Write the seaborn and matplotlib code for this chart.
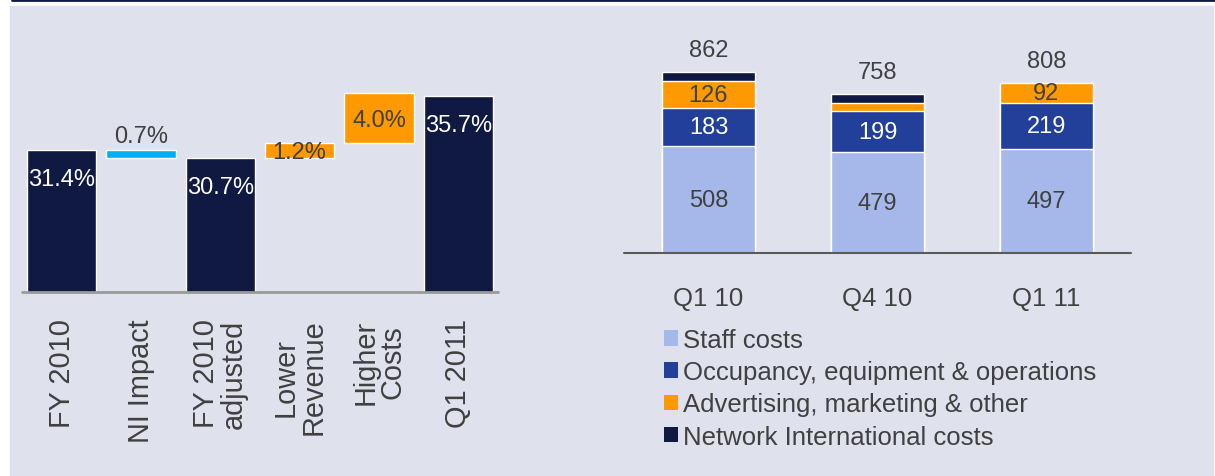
import matplotlib
matplotlib.use("Agg")
import matplotlib.pyplot as plt
import seaborn as sns
import numpy as np
from matplotlib.patches import Patch, Rectangle
from matplotlib.lines import Line2D

# ---- data ----
steps = ["FY 2010", "NI Impact", "FY 2010\nadjusted", "Lower\nRevenue", "Higher\nCosts", "Q1 2011"]
step_values = [31.4, -0.7, 30.7, 1.2, 4.0, 35.7]
step_kind = ["total", "delta", "total", "delta", "delta", "total"]
step_labels = ["31.4%", "0.7%", "30.7%", "1.2%", "4.0%", "35.7%"]

quarters = ["Q1 10", "Q4 10", "Q1 11"]
cost_names = ["Staff costs", "Occupancy, equipment & operations",
              "Advertising, marketing & other", "Network International costs"]
staff = [508, 479, 497]
occupancy = [183, 199, 219]
advertising = [126, 35, 92]
network = [45, 45, 0]
totals = [862, 758, 808]

# ---- style ----
sns.set_theme(style="white")
plt.rcParams["font.family"] = ["Liberation Sans", "DejaVu Sans"]
navy = "#0f1941"
cyan = "#00b0f0"
orange = "#ff9900"
light_blue = "#a6b8ea"
blue = "#223f99"
panel = "#dfe1ec"
txt = "#404040"
lab_fs = 17

W, H = 1215, 477
fig = plt.figure(figsize=(W / 100, H / 100), dpi=100, facecolor="white")
fig.patches.append(Rectangle((10 / W, 0), (W - 12) / W, (H - 7) / H,
                             transform=fig.transFigure, color=panel, zorder=-5))
fig.lines.append(Line2D([12 / W, 1], [1 - 1 / H, 1 - 1 / H], transform=fig.transFigure,
                        color=navy, lw=2))

# ---- left: waterfall ----
ax1 = fig.add_axes([22 / W, 1 - 293 / H, 476 / W, 250 / H])
ax1.set_facecolor("none")
level = 0
for i, (name, v, kind) in enumerate(zip(steps, step_values, step_kind)):
    if kind == "total":
        sns.barplot(x=[name], y=[v], order=steps, color=navy, width=0.87,
                    saturation=1, ax=ax1)
        level = v
        lo, hi = 20, v
    else:
        lo, hi = sorted([level, level + v])
        sns.barplot(x=[name], y=[hi - lo], order=steps, bottom=lo,
                    color=cyan if v < 0 else orange, width=0.87, saturation=1, ax=ax1)
        level = level + v
    if kind == "total":
        ax1.annotate(step_labels[i], (i, hi), xytext=(0, -21), textcoords="offset points",
                     ha="center", va="center", color="white", fontsize=lab_fs)
    elif v < 0:
        ax1.annotate(step_labels[i], (i, hi), xytext=(0, 10), textcoords="offset points",
                     ha="center", va="center", color=txt, fontsize=lab_fs)
    else:
        ax1.annotate(step_labels[i], (i, (lo + hi) / 2), xytext=(0, -1), textcoords="offset points",
                     ha="center", va="center", color=txt, fontsize=lab_fs)

ax1.set_xlim(-0.5, 5.5)
ax1.set_ylim(20, 40)
ax1.axhline(20, color="#9a9a9a", lw=2, clip_on=False)
sns.despine(ax=ax1, left=True, bottom=True)
ax1.set_yticks([])
ax1.set_xlabel("")
ax1.set_ylabel("")
ax1.tick_params(axis="x", length=0, pad=19)
ax1.set_xticks(range(len(steps)))
ax1.set_xticklabels(steps, rotation=90, fontsize=20.8, color=txt,
                    multialignment="center", linespacing=0.985)

# ---- right: stacked costs ----
ax2 = fig.add_axes([624 / W, 1 - 254 / H, 507 / W, 210 / H])
ax2.set_facecolor("none")
layers = [staff, occupancy, advertising, network]
colors = [light_blue, blue, orange, navy]
cum = np.cumsum(np.array(layers), axis=0)
for k in range(len(layers) - 1, -1, -1):
    sns.barplot(x=quarters, y=cum[k], order=quarters, color=colors[k], width=0.55,
                saturation=1, ax=ax2)

label_colors = [txt, "white", txt]
for j, q in enumerate(quarters):
    for k in range(3):
        val = layers[k][j]
        if k == 2 and val < 50:
            continue
        base = cum[k][j] - val
        ax2.text(j, base + val / 2, str(val), ha="center", va="center",
                 color=label_colors[k], fontsize=lab_fs)
    ax2.annotate(str(totals[j]), (j, totals[j]), xytext=(0, 8), textcoords="offset points",
                 ha="center", va="bottom", color=txt, fontsize=lab_fs)

ax2.set_xlim(-0.5, 2.5)
ax2.set_ylim(0, 1000)
ax2.axhline(0, color="#5a5a5a", lw=1.5, clip_on=False)
sns.despine(ax=ax2, left=True, bottom=True)
ax2.set_yticks([])
ax2.set_xlabel("")
ax2.set_ylabel("")
ax2.tick_params(axis="x", length=0, pad=23.5, labelsize=18.5, labelcolor=txt)

handles = [Patch(facecolor=c, edgecolor="none") for c in colors]
fig.legend(handles, cost_names, loc="upper left", bbox_to_anchor=(664 / W, 1 - 329 / H),
           frameon=False, fontsize=18.5, labelcolor=txt, handlelength=0.55,
           handleheight=0.55, handletextpad=0.2, labelspacing=0.32,
           borderpad=0, borderaxespad=0)

fig.savefig("out.png", dpi=100, facecolor="white")
